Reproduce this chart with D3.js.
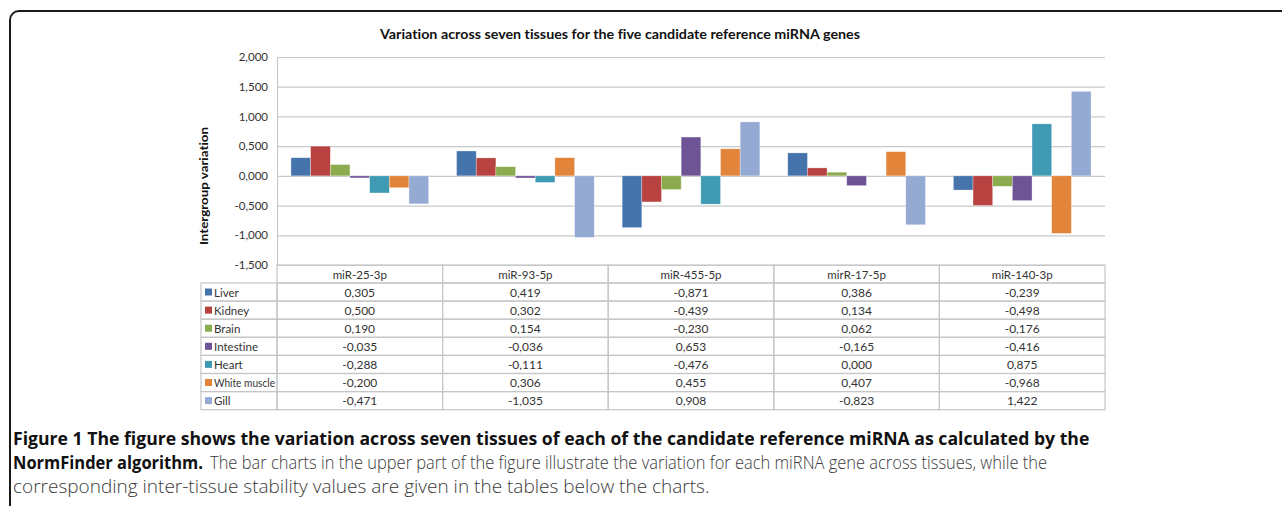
<!DOCTYPE html>
<html>
<head>
<meta charset="utf-8">
<script src="https://cdnjs.cloudflare.com/ajax/libs/d3/7.8.5/d3.min.js"></script>
<style>
  body { margin: 0; background: #fff; }
  svg { display: block; }
  text { font-variant-ligatures: none; }
</style>
</head>
<body>
<div id="chart-area"></div>
<script>
const genes = ["miR-25-3p", "miR-93-5p", "miR-455-5p", "mirR-17-5p", "miR-140-3p"];
const tissues = ["Liver", "Kidney", "Brain", "Intestine", "Heart", "White muscle", "Gill"];
const colors = ["#4573AB", "#B8423F", "#8CAB4F", "#6F5495", "#3F9AB3", "#E2843A", "#94AAD3"];

// one array per tissue, values in gene order
const liver = [0.305, 0.419, -0.871, 0.386, -0.239];
const kidney = [0.500, 0.302, -0.439, 0.134, -0.498];
const brain = [0.190, 0.154, -0.230, 0.062, -0.176];
const intestine = [-0.035, -0.036, 0.653, -0.165, -0.416];
const heart = [-0.288, -0.111, -0.476, 0.000, 0.875];
const whiteMuscle = [-0.200, 0.306, 0.455, 0.407, -0.968];
const gill = [-0.471, -1.035, 0.908, -0.823, 1.422];

const yTicks = [-1.5, -1, -0.5, 0, 0.5, 1, 1.5, 2];

const series = [liver, kidney, brain, intestine, heart, whiteMuscle, gill];

const width = 1282, height = 506;
// European style: decimal comma
const fmt = v => d3.format(".3f")(v).replace(".", ",").replace("−", "-");

const svg = d3.select("#chart-area")
    .append("svg")
    .attr("width", width)
    .attr("height", height);

// outer frame with rounded corner
svg.append("rect")
    .attr("x", 10).attr("y", 11)
    .attr("width", 1300).attr("height", 560)
    .attr("rx", 9)
    .attr("fill", "none")
    .attr("stroke", "#1a1a1a")
    .attr("stroke-width", 2);

const plotLeft = 277, plotRight = 1105;
const chartFont = "Lato, sans-serif";

const x0 = d3.scaleBand().domain(genes).range([plotLeft, plotRight]);
const x1 = d3.scaleBand().domain(tissues).range([0, x0.bandwidth()]).paddingOuter(0.71);
const y = d3.scaleLinear().domain([-1.5, 2]).range([265, 57]);

// title
svg.append("text")
    .attr("x", 620).attr("y", 39)
    .attr("text-anchor", "middle")
    .style("font-family", chartFont)
    .style("font-weight", "bold")
    .style("font-size", "14px")
    .attr("fill", "#111")
    .attr("textLength", 480)
    .attr("lengthAdjust", "spacingAndGlyphs")
    .text("Variation across seven tissues for the five candidate reference  miRNA genes");

// grid + y axis
const yAxis = d3.axisLeft(y)
    .tickValues(yTicks)
    .tickSize(-(plotRight - plotLeft))
    .tickPadding(9)
    .tickFormat(fmt);

const ga = svg.append("g")
    .attr("transform", `translate(${plotLeft},0)`)
    .call(yAxis);
ga.select(".domain").attr("stroke", "#c4c4c4");
ga.selectAll(".tick line").attr("stroke", "#c8c8c8").attr("stroke-width", 1.2);
ga.selectAll(".tick text")
    .style("font-family", chartFont)
    .style("font-size", "11.5px")
    .attr("fill", "#333");

// y label
svg.append("text")
    .attr("transform", "translate(208,186) rotate(-90)")
    .attr("text-anchor", "middle")
    .style("font-family", chartFont)
    .style("font-weight", "bold")
    .style("font-size", "12px")
    .attr("fill", "#111")
    .attr("textLength", 118)
    .attr("lengthAdjust", "spacingAndGlyphs")
    .text("Intergroup  variation");

// bars
const groups = svg.append("g").selectAll("g")
    .data(genes)
    .join("g")
    .attr("transform", d => `translate(${x0(d)},0)`);

groups.selectAll("rect")
    .data((g, gi) => tissues.map((t, ti) => ({ tissue: t, ti, value: series[ti][gi] })))
    .join("rect")
    .attr("x", d => x1(d.tissue))
    .attr("width", x1.bandwidth())
    .attr("y", d => y(Math.max(0, d.value)))
    .attr("height", d => Math.abs(y(d.value) - y(0)))
    .attr("fill", d => colors[d.ti])
    .attr("stroke", "#fff")
    .attr("stroke-opacity", 0.5)
    .attr("stroke-width", 0.6);

// data table
const tableTop = 265, headH = 18, rowH = 18.1, leftCol = 201;
const tbl = svg.append("g");
const lineColor = "#c6c6c6";

tbl.selectAll("rect.head")
    .data(genes)
    .join("rect")
    .attr("class", "head")
    .attr("x", d => x0(d)).attr("y", tableTop)
    .attr("width", x0.bandwidth()).attr("height", headH)
    .attr("fill", "none").attr("stroke", lineColor).attr("stroke-width", 1.2);

tbl.selectAll("text.head")
    .data(genes)
    .join("text")
    .attr("class", "head")
    .attr("x", d => x0(d) + x0.bandwidth() / 2)
    .attr("y", tableTop + 13.5)
    .attr("text-anchor", "middle")
    .style("font-family", chartFont)
    .style("font-size", "11.5px")
    .attr("fill", "#333")
    .text(d => d);

const rows = tbl.selectAll("g.row")
    .data(tissues)
    .join("g")
    .attr("class", "row")
    .attr("transform", (d, i) => `translate(0,${tableTop + headH + i * rowH})`);

rows.append("rect")
    .attr("x", leftCol).attr("y", 0)
    .attr("width", plotLeft - leftCol).attr("height", rowH)
    .attr("fill", "none").attr("stroke", lineColor).attr("stroke-width", 1.2);

rows.append("rect")
    .attr("x", leftCol + 4).attr("y", 5.5)
    .attr("width", 7).attr("height", 7)
    .attr("fill", (d, i) => colors[i]);

rows.append("text")
    .attr("x", leftCol + 13).attr("y", 13.5)
    .style("font-family", chartFont)
    .style("font-size", "11.5px")
    .attr("fill", "#333")
    .text(d => d)
    .each(function () {
        // squeeze labels that would overflow the cell
        const w = this.getComputedTextLength();
        if (w > 61) d3.select(this).attr("textLength", 61).attr("lengthAdjust", "spacingAndGlyphs");
    });

rows.each(function (t, ti) {
    const r = d3.select(this);
    r.selectAll("rect.cell")
        .data(genes)
        .join("rect")
        .attr("class", "cell")
        .attr("x", d => x0(d)).attr("y", 0)
        .attr("width", x0.bandwidth()).attr("height", rowH)
        .attr("fill", "none").attr("stroke", lineColor).attr("stroke-width", 1.2);
    r.selectAll("text.val")
        .data(series[ti])
        .join("text")
        .attr("class", "val")
        .attr("x", (d, gi) => x0(genes[gi]) + x0.bandwidth() / 2)
        .attr("y", 13.5)
        .attr("text-anchor", "middle")
        .style("font-family", chartFont)
        .style("font-size", "12px")
        .attr("fill", "#333")
        .text(d => fmt(d));
});

// caption: fit font size to the widths in the original
const cap = svg.append("g")
    .style("font-family", "'Open Sans', sans-serif");

function fitText(sel, target) {
    sel.style("font-size", "16px");
    const w = sel.node().getComputedTextLength();
    const size = 16 * target / w;
    sel.style("font-size", size + "px");
    return size;
}

const l1 = cap.append("text")
    .attr("x", 13).attr("y", 445)
    .style("font-weight", "bold")
    .attr("fill", "#111")
    .text("Figure 1 The figure shows the variation across seven tissues of each of the candidate reference miRNA as calculated by the");
const boldSize = fitText(l1, 1077);

cap.append("text")
    .attr("x", 13).attr("y", 469)
    .style("font-weight", "bold")
    .style("font-size", boldSize + "px")
    .attr("fill", "#111")
    .attr("textLength", 190)
    .attr("lengthAdjust", "spacingAndGlyphs")
    .text("NormFinder algorithm.");

const l3 = cap.append("text")
    .attr("x", 13).attr("y", 493)
    .style("font-weight", "300")
    .attr("fill", "#3a3a3a")
    .text("corresponding inter-tissue stability values are given in the tables below the charts.");
const regSize = fitText(l3, 697);

cap.append("text")
    .attr("x", 210).attr("y", 469)
    .style("font-weight", "300")
    .style("font-size", regSize + "px")
    .attr("fill", "#3a3a3a")
    .attr("textLength", 837)
    .attr("lengthAdjust", "spacingAndGlyphs")
    .text("The bar charts in the upper part of the figure illustrate the variation for each miRNA gene across tissues, while the");
</script>
</body>
</html>
